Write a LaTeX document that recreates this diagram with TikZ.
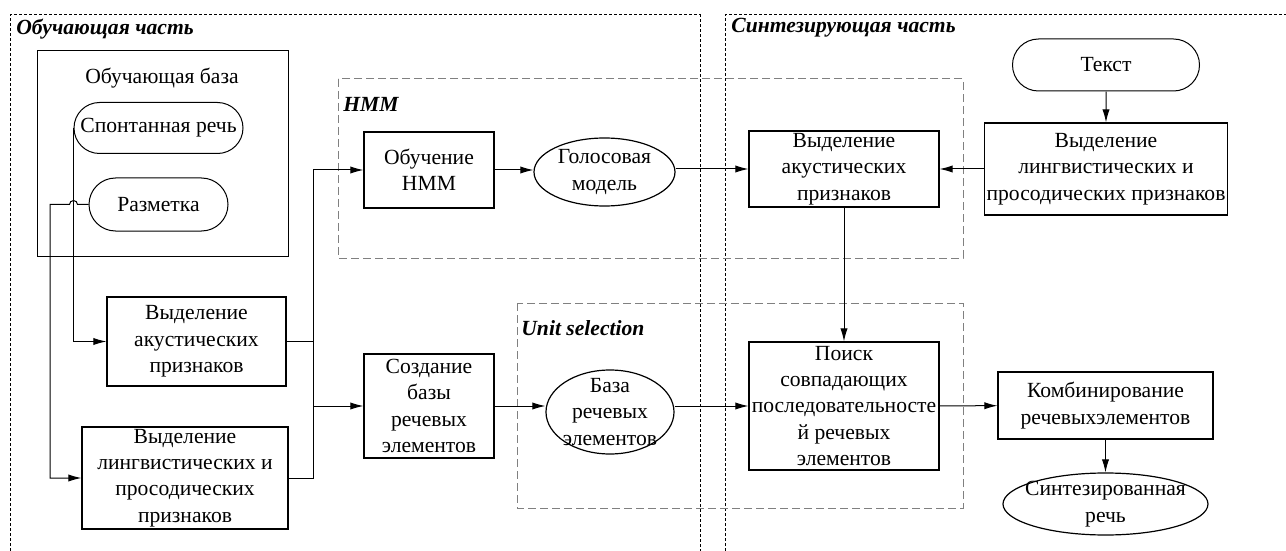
\documentclass[tikz,border=0pt]{standalone}
\usepackage{fontspec}
\setmainfont{Liberation Serif}
\usetikzlibrary{shapes,arrows.meta,positioning,calc}
\newcommand{\blockfs}{\fontsize{10.8pt}{13.2pt}\selectfont}

\begin{document}
\begin{tikzpicture}
[x=0.5pt,y=-0.5pt,
every node/.append style={font=\blockfs},
%
block/.style={shape=rectangle,draw=black,align=center,inner sep=1pt,line width=0.6pt},
term/.style={shape=rounded rectangle,draw=black,align=center,inner sep=1pt,line width=0.5pt},
store/.style={shape=ellipse,draw=black,inner sep=0pt,line width=0.6pt},
txt/.style={align=center,inner sep=0pt},
part/.style={draw=black,line width=0.5pt,dash pattern=on 1.5pt off 1pt},
method/.style={draw=black!50,line width=0.5pt,dash pattern=on 4pt off 2pt},
caption/.style={anchor=west,font=\blockfs\bfseries\itshape,inner sep=0pt},
%
flow/.style={black,>={Latex[length=6.5pt,width=3.6pt]},line width=0.5pt}]
%
\useasboundingbox (0,0) rectangle (1286,551);
% parts
\draw[part] (10,551) -- (10,15) -- (700,15) -- (700,551);
\draw[part] (725,551) -- (725,15) -- (1286,15);
\node (learncap) [caption] at (16,29) {Обучающая часть};
\node (synthcap) [caption] at (731,28) {Синтезирующая часть};
% methods
\draw[method] (338,79) rectangle (963,258);
\draw[method] (517,303) rectangle (963,508);
\node (hmmcap) [caption] at (343,104) {HMM};
\node (unitcap) [caption] at (521,328) {Unit selection};
%
% training base
\node (base) [draw=black,line width=0.5pt,minimum width=125.5pt,minimum height=102.5pt] at (162.5,153.5) {};
\node (basettl) [txt] at (162,78) {Обучающая база};
\node (spont) [term,minimum width=86.5pt,minimum height=25.5pt] at (158.5,128) {Спонтанная речь};
\node (razm) [term,minimum width=71.5pt,minimum height=26.5pt] at (158.5,204.5) {Разметка};
%
% features
\node (akust) [block,minimum width=89.5pt,minimum height=44.5pt] at (196.5,341.5) {Выделение\\акустических\\признаков};
\node (lingv) [block,minimum width=103pt,minimum height=51pt] at (185,478) {Выделение\\лингвистических и\\просодических\\признаков};
%
% HMM
\node (hmmtrain) [block,minimum width=65pt,minimum height=38pt] at (429,170) {Обучение\\HMM};
\node (golos) [store,minimum width=70.5pt,minimum height=34pt,label={[txt]center:Голосовая\\модель}] at (604.5,172) {};
%
% unit selection
\node (sozd) [block,minimum width=65pt,minimum height=52pt] at (429,406) {Создание\\базы\\речевых\\элементов};
\node (baza) [store,minimum width=64pt,minimum height=42pt,label={[txt]center:База\\речевых\\элементов}] at (610,412) {};
%
% synthesis
\node (tekst) [term,minimum width=95.5pt,minimum height=26pt] at (1106,65) {Текст};
\node (slingv) [block,minimum width=120.5pt,minimum height=46pt] at (1106,169) {Выделение\\лингвистических и\\просодических признаков};
\node (sakust) [block,minimum width=95pt,minimum height=38pt] at (844,169) {Выделение\\акустических\\признаков};
\node (poisk) [block,minimum width=95pt,minimum height=64pt] at (844,406) {Поиск\\совпадающих\\последовательносте\\й речевых\\элементов};
\node (komb) [block,minimum width=107.5pt,minimum height=33.5pt] at (1105.5,405.5) {Комбинирование\\речевыхэлементов};
\node (synth) [store,minimum width=102.5pt,minimum height=31pt,label={[txt]center:Синтезированная\\речь}] at (1105.5,504) {};
%
% edges
\coordinate (bus) at (313,170);
\coordinate (razmturn) at (50,204.5);
\draw[->,flow] (spont.west) |- (akust.west);
\draw[->,flow] (razm.west) -- ($(spont.west |- razm.west)+(4,0)$) arc[start angle=0,end angle=180,radius=2pt] -- (razmturn) |- (lingv.west);
\draw[->,flow] (akust.east) -| (bus) -- (hmmtrain.west);
\draw[flow] (lingv.east) -| (bus);
\draw[->,flow] (bus |- sozd.west) -- (sozd.west);
\draw[->,flow] (hmmtrain.east) -- (hmmtrain.east -| golos.west);
\draw[->,flow] (sozd.east) -- (sozd.east -| baza.west);
\draw[->,flow] (golos.east |- sakust.west) -- (sakust.west);
\draw[->,flow] (baza.east |- poisk.west) -- (poisk.west);
\draw[->,flow] (tekst) -- (slingv);
\draw[->,flow] (slingv) -- (sakust);
\draw[->,flow] (sakust) -- (poisk);
\draw[->,flow] (poisk) -- (komb);
\draw[->,flow] (komb) -- (synth);
\end{tikzpicture}
\end{document}
